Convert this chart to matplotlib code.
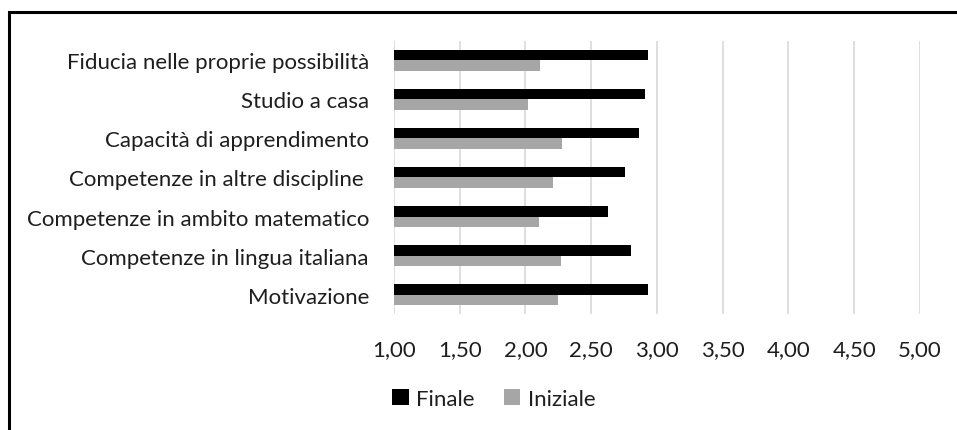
import matplotlib.pyplot as plt
import numpy as np
from matplotlib.patches import Rectangle

# voci del questionario, dal basso verso l'alto
voci = ['Motivazione',
        'Competenze in lingua italiana',
        'Competenze in ambito matematico',
        'Competenze in altre discipline ',
        'Capacità di apprendimento',
        'Studio a casa',
        'Fiducia nelle proprie possibilità']
finale = [2.93, 2.80, 2.63, 2.76, 2.86, 2.91, 2.93]
iniziale = [2.25, 2.27, 2.10, 2.21, 2.28, 2.02, 2.11]
tacche = [1.0, 1.5, 2.0, 2.5, 3.0, 3.5, 4.0, 4.5, 5.0]
etichette_x = ['1,00', '1,50', '2,00', '2,50', '3,00', '3,50', '4,00', '4,50', '5,00']

plt.rcParams['font.family'] = ['Lato', 'DejaVu Sans']
testo = '#1e1e1e'
fs = 16

fig = plt.figure(figsize=(9.57, 4.31), dpi=100)
ax = fig.add_axes([0.4117, 0.2691, 0.9613 - 0.4117, 0.9026 - 0.2691])

y = np.arange(len(voci))
h = 0.265
base = 1.0
ax.barh(y + h / 2, np.array(finale) - base, left=base, height=h,
        color='#000000', label='Finale', zorder=3)
ax.barh(y - h / 2, np.array(iniziale) - base, left=base, height=h,
        color='#a6a6a6', label='Iniziale', zorder=3)

ax.set_xlim(1.0, 5.0)
ax.set_ylim(-0.5, len(voci) - 0.5)
ax.set_xticks(tacche)
ax.set_xticklabels(etichette_x, fontsize=fs, color=testo)
ax.set_yticks(y)
ax.set_yticklabels(voci, fontsize=fs, color=testo)
ax.tick_params(axis='y', length=0, pad=18)
ax.tick_params(axis='x', length=0, pad=18)
ax.grid(axis='x', color='#d9d9d9', linewidth=1.2, zorder=0)
for lato in ax.spines.values():
    lato.set_visible(False)

ax.legend(loc='center', ncol=2, frameon=False, fontsize=fs,
          handlelength=0.75, handleheight=0.75, handletextpad=0.35,
          columnspacing=1.3, labelcolor=testo,
          bbox_to_anchor=(0.516, 0.072), bbox_transform=fig.transFigure)

# cornice esterna del grafico
fig.patches.append(Rectangle((9 / 957, -0.1), 1.2, 1 - 13 / 431 + 0.1,
                             transform=fig.transFigure, fill=False,
                             edgecolor='black', linewidth=2.2))

fig.savefig('out.png', dpi=100)
